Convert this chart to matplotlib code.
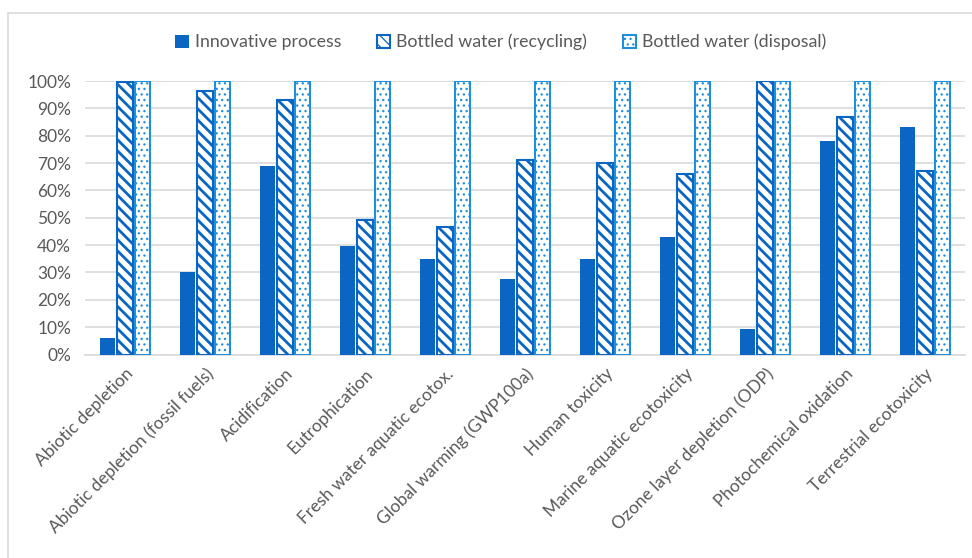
import numpy as np
import matplotlib.pyplot as plt
from matplotlib.patches import Rectangle

categories = ["Abiotic depletion", "Abiotic depletion (fossil fuels)", "Acidification",
              "Eutrophication", "Fresh water aquatic ecotox.", "Global warming (GWP100a)",
              "Human toxicity", "Marine aquatic ecotoxicity", "Ozone layer depletion (ODP)",
              "Photochemical oxidation", "Terrestrial ecotoxicity"]
innovative = [6, 30, 69, 39.5, 35, 27.5, 35, 43, 9.5, 78, 83]
recycling = [99.5, 96.5, 93, 49, 46.5, 71, 70, 66, 100, 87, 67]
disposal = [100, 100, 100, 100, 100, 100, 100, 100, 100, 100, 100]
series_names = ["Innovative process", "Bottled water (recycling)", "Bottled water (disposal)"]

plt.rcParams['font.family'] = ['Lato', 'DejaVu Sans']

fig = plt.figure(figsize=(9.72, 5.58), dpi=100)
ax = fig.add_axes([85 / 972, 1 - 354.5 / 558, 880 / 972, 273.5 / 558])

x = np.arange(len(categories))
w = 0.19
off = 0.22
dark = "#0A66C2"
light = "#1F8EDB"

ax.bar(x - off, innovative, w, color=dark, label=series_names[0], zorder=3)
plt.rcParams['hatch.linewidth'] = 2.0
ax.bar(x, recycling, w, facecolor="white", edgecolor=dark, hatch="\\\\\\", linewidth=1.5,
       label=series_names[1], zorder=3)
plt.rcParams['hatch.linewidth'] = 0.9
ax.bar(x + off, disposal, w, facecolor="white", edgecolor=light, hatch="...", linewidth=1.5,
       label=series_names[2], zorder=3)

ax.set_xlim(-0.5, len(categories) - 0.5)
ax.set_ylim(0, 100)
ax.set_yticks(np.arange(0, 101, 10))
ax.set_yticklabels([f"{v}%" for v in range(0, 101, 10)])
ax.yaxis.grid(True, color="#D9D9D9", linewidth=1.2, zorder=0)
ax.set_axisbelow(True)
for s in ["top", "right", "left"]:
    ax.spines[s].set_visible(False)
ax.spines["bottom"].set_color("#D9D9D9")
ax.spines["bottom"].set_linewidth(1.2)
ax.tick_params(axis="both", length=0, labelsize=12.5, colors="#595959", pad=10)
ax.set_xticks(x)
ax.set_xticklabels(categories, rotation=45, ha="right", rotation_mode="anchor")
ax.tick_params(axis="x", pad=8)

fig.legend(loc="center", bbox_to_anchor=(501 / 972, 1 - 42 / 558), ncol=3, frameon=False,
           fontsize=12.8, handlelength=0.75, handleheight=0.75, handletextpad=0.35,
           columnspacing=2.0, labelcolor="#595959")

fig.patches.append(Rectangle((8 / 972, -0.1), 1.2, 1 - 13 / 558 + 0.1, transform=fig.transFigure,
                             fill=False, edgecolor="#D9D9D9", linewidth=1.2))

fig.savefig("out.png", dpi=100)
